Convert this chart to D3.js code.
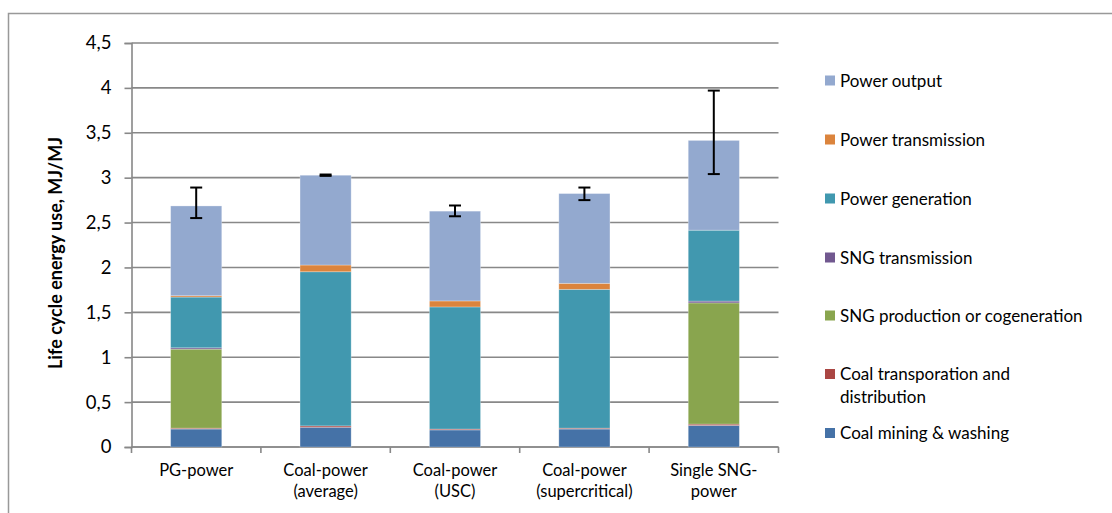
<!DOCTYPE html>
<html><head><meta charset="utf-8">
<script src="https://cdn.jsdelivr.net/npm/d3@7"></script>
<style>html,body{margin:0;padding:0;background:#fff;}svg{display:block;}</style>
</head><body>
<svg id="c" width="1112" height="513"></svg>
<script>
const categories = [["PG-power"], ["Coal-power", "(average)"], ["Coal-power", "(USC)"], ["Coal-power", "(supercritical)"], ["Single SNG-", "power"]];
const seriesNames = ["Coal mining & washing", "Coal transporation and distribution", "SNG production or cogeneration", "SNG transmission", "Power generation", "Power transmission", "Power output"];
const seriesColors = ["#4572A7", "#AA4643", "#89A54E", "#71588F", "#4198AF", "#DB843D", "#93A9CF"];
const coalMining = [0.20, 0.22, 0.19, 0.20, 0.24];
const coalTransport = [0.01, 0.015, 0.01, 0.01, 0.015];
const sngProduction = [0.88, 0, 0, 0, 1.35];
const sngTransmission = [0.015, 0, 0, 0, 0.02];
const powerGeneration = [0.565, 1.717, 1.36, 1.546, 0.79];
const powerTransmission = [0.015, 0.075, 0.067, 0.067, 0];
const powerOutput = [1.0, 1.0, 1.0, 1.0, 1.0];
const errLow = [2.55, 3.02, 2.57, 2.75, 3.04];
const errHigh = [2.89, 3.035, 2.69, 2.89, 3.97];
const yTicks = [0, 0.5, 1, 1.5, 2, 2.5, 3, 3.5, 4, 4.5];
const yTickLabels = ["0", "0,5", "1", "1,5", "2", "2,5", "3", "3,5", "4", "4,5"];
const yTitle = "Life cycle energy use, MJ/MJ";

const series = [coalMining, coalTransport, sngProduction, sngTransmission, powerGeneration, powerTransmission, powerOutput];
const svg = d3.select("#c");
const font = "Lato, 'Open Sans', sans-serif";
const grid = "#888";

// outer frame
svg.append("rect").attr("x", 8.5).attr("y", 13.5).attr("width", 1200).attr("height", 600)
  .attr("fill", "none").attr("stroke", "#999").attr("stroke-width", 1.5);

const pL = 131.5, pR = 778.5, pT = 43, pB = 447;
const x = d3.scaleBand().domain(d3.range(categories.length)).range([pL, pR]).padding(0);
const y = d3.scaleLinear().domain([0, 4.5]).range([pB, pT]);
const barW = x.bandwidth() * 0.395;

// gridlines
svg.append("g").selectAll("line").data(yTicks).join("line")
  .attr("x1", pL).attr("x2", pR).attr("y1", d => y(d)).attr("y2", d => y(d))
  .attr("stroke", grid).attr("stroke-width", 1.6);

// y axis
const yAxis = d3.axisLeft(y).tickValues(yTicks).tickFormat((d, i) => yTickLabels[i]).tickSize(7).tickPadding(13);
const ga = svg.append("g").attr("transform", `translate(${pL},0)`).call(yAxis);
ga.select(".domain").attr("stroke", grid).attr("stroke-width", 1.6);
ga.selectAll(".tick line").attr("stroke", grid).attr("stroke-width", 1.6);
ga.selectAll(".tick text").attr("font-family", font).attr("font-size", 18.5).attr("fill", "#000");

// x axis
const gx = svg.append("g").attr("transform", `translate(0,${pB})`);
gx.append("line").attr("x1", pL).attr("x2", pR).attr("stroke", grid).attr("stroke-width", 1.6);
const xb = d3.range(categories.length + 1).map(i => pL + i * x.step());
gx.selectAll(".xt").data(xb).join("line").attr("class", "xt")
  .attr("x1", d => d).attr("x2", d => d).attr("y1", 0).attr("y2", 6)
  .attr("stroke", grid).attr("stroke-width", 1.6);
gx.selectAll(".xl").data(categories).join("text").attr("class", "xl")
  .attr("font-family", font).attr("font-size", 16.5).attr("text-anchor", "middle")
  .each(function (d, i) {
    const t = d3.select(this);
    d.forEach((ln, j) => t.append("tspan").attr("x", x(i) + x.bandwidth() / 2).attr("y", 29 + j * 21).text(ln));
  });

// stacked bars
const stackData = categories.map((c, i) => { const o = { i }; series.forEach((s, k) => o[k] = s[i]); return o; });
const stacked = d3.stack().keys(d3.range(series.length))(stackData);
svg.append("g").selectAll("g").data(stacked).join("g").attr("fill", (d, k) => seriesColors[k])
  .selectAll("rect").data(d => d).join("rect")
  .attr("x", d => x(d.data.i) + (x.bandwidth() - barW) / 2)
  .attr("width", barW)
  .attr("y", d => y(d[1]))
  .attr("height", d => Math.max(0, y(d[0]) - y(d[1])))
  .attr("stroke", "rgba(255,255,255,0.35)").attr("stroke-width", 0.8);

// error bars
const eg = svg.append("g").attr("stroke", "#000").attr("stroke-width", 2);
categories.forEach((c, i) => {
  const cx = x(i) + x.bandwidth() / 2;
  eg.append("line").attr("x1", cx).attr("x2", cx).attr("y1", y(errLow[i])).attr("y2", y(errHigh[i]));
  [errLow[i], errHigh[i]].forEach(v => eg.append("line").attr("x1", cx - 6).attr("x2", cx + 6).attr("y1", y(v)).attr("y2", y(v)));
});

// y title
svg.append("text").attr("transform", `translate(62,${(pT + pB) / 2 + 8}) rotate(-90)`)
  .attr("text-anchor", "middle").attr("font-family", font).attr("font-weight", "bold").attr("font-size", 18)
  .text(yTitle);

// legend
const legY = [80.5, 139.5, 198.5, 257.5, 315.5, 374, 433];
const legOrder = [6, 5, 4, 3, 2, 1, 0];
const lg = svg.append("g");
legOrder.forEach((k, j) => {
  const cy = legY[j];
  lg.append("rect").attr("x", 825).attr("y", cy - 5).attr("width", 10).attr("height", 10).attr("fill", seriesColors[k]);
  const t = lg.append("text").attr("font-family", font).attr("font-size", 17).attr("fill", "#000");
  if (k === 1) {
    t.append("tspan").attr("x", 840).attr("y", cy + 6).text("Coal transporation and");
    t.append("tspan").attr("x", 840).attr("y", cy + 29).text("distribution");
  } else {
    t.append("tspan").attr("x", 840).attr("y", cy + 6).text(seriesNames[k]);
  }
});
</script>
</body></html>
